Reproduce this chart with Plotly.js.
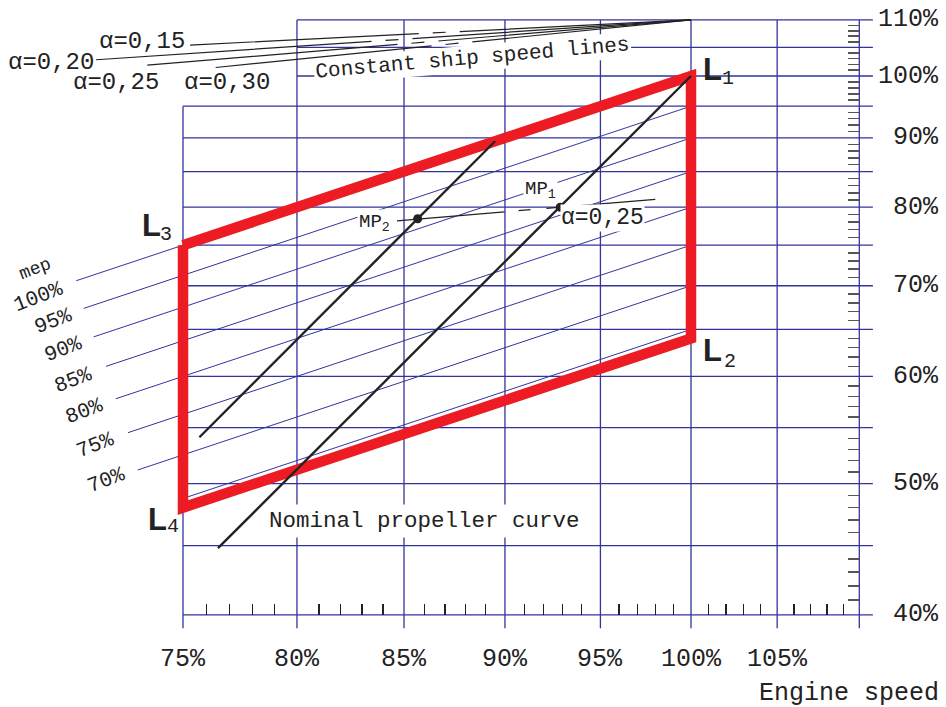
<!DOCTYPE html>
<html>
<head>
<meta charset="utf-8">
<script src="https://cdn.plot.ly/plotly-3.0.1.min.js"></script>
<style>
  html, body { margin: 0; padding: 0; background: #fff; }
  #chart { width: 946px; height: 707px; }
</style>
</head>
<body>
<div id="chart"></div>
<script>
// Engine layout diagram: power vs. engine speed (both % of L1), log-log scales

// ---- grid levels ----
const speedGrid = [75, 80, 85, 90, 95, 100, 105, 110];
const powerGrid = [40, 45, 50, 55, 60, 65, 70, 75, 80, 85, 90, 95, 100, 105, 110];
const speedTickLabels = ['75%', '80%', '85%', '90%', '95%', '100%', '105%'];
const speedTickValues = [75, 80, 85, 90, 95, 100, 105];
const powerTickLabels = ['40%', '50%', '60%', '70%', '80%', '90%', '100%', '110%'];
const powerTickValues = [40, 50, 60, 70, 80, 90, 100, 110];

// ---- layout area corners L1..L4 ----
const cornerNames = ['1', '2', '3', '4'];
const cornerSpeed = [100, 100, 75, 75];
const cornerPower = [100, 64, 75, 48];

// ---- constant mep lines ----
const mepLevels = [100, 95, 90, 85, 80, 75, 70, 65];
const mepLabels = ['100%', '95%', '90%', '85%', '80%', '75%', '70%'];
const mepStartSpeed = [70.6, 70.9, 71.3, 71.8, 72.2, 72.7, 73.1, 75.0];

// ---- propeller curves ----
const nominalPropSpeed = [76.5, 100];
const nominalPropPower = [44.8, 100];
const lightPropSpeed = [75.7, 89.5];
const lightPropPower = [54.1, 89.5];

// ---- constant ship speed lines ----
const shipAlpha = ['0,15', '0,20', '0,25', '0,30'];
const shipStartSpeed = [75.3, 71.4, 73.5, 76.4];
const shipStartPower = [105.4, 102.8, 101.85, 101.46];
const shipEndSpeed = 100;
const shipEndPower = 110;

// ---- matching points ----
const mpNames = ['1', '2'];
const mpSpeed = [92.86, 85.66];
const mpPower = [80.0, 78.45];
const mpLineSpeed = [84.66, 98.0];
const mpLinePower = [78.17, 81.08];

// ---- styling ----
const W = 946, H = 707;
const X = p => p / W;
const Y = p => 1 - p / H;
const BLUE = '#33339e';
const RED = '#ed1c24';
const INK = '#222222';
const MONO = 'Liberation Mono, DejaVu Sans Mono, monospace';
const mono = (size) => ({ family: MONO, size: size, color: INK });

const gridTop = 110, gridTopLeft = 95, gridBottom = 39.1, gridRight = 110.85;

// grid built from the levels above
const gx = [], gy = [];
speedGrid.forEach(s => { gx.push(s, s, null); gy.push(s === 75 ? gridTopLeft : gridTop, gridBottom, null); });
powerGrid.forEach(p => { gx.push(p >= 100 ? 80 : 75, gridRight, null); gy.push(p, p, null); });

// mep lines: power = mep x speed, drawn up to 100 % speed
const mx = [], my = [];
mepLevels.forEach((m, i) => {
  const s0 = mepStartSpeed[i];
  mx.push(s0, 100, null);
  my.push(m * s0 / 100, m, null);
});

// layout area outline L3 -> L1 -> L2 -> L4 -> L3
const order = [2, 0, 1, 3, 2];
const boxX = order.map(i => cornerSpeed[i]);
const boxY = order.map(i => cornerPower[i]);

const shipDash = ['229px,14px,13px,14px,600px', '276px,14px,13px,14px,600px',
                  '251px,14px,13px,14px,600px', '217px,14px,13px,14px,600px'];

const traces = [
  { x: gx, y: gy, mode: 'lines', line: { color: BLUE, width: 1.3 }, hoverinfo: 'skip' },
  { x: mx, y: my, mode: 'lines', line: { color: BLUE, width: 1 }, hoverinfo: 'skip' },
  { x: boxX, y: boxY, mode: 'lines', line: { color: RED, width: 10.5 }, hoverinfo: 'skip' },
  { x: nominalPropSpeed, y: nominalPropPower, mode: 'lines', line: { color: INK, width: 2.4 } },
  { x: lightPropSpeed, y: lightPropPower, mode: 'lines', line: { color: INK, width: 2.4 } }
];
shipAlpha.forEach((a, i) => {
  traces.push({ x: [shipStartSpeed[i], shipEndSpeed], y: [shipStartPower[i], shipEndPower],
    mode: 'lines', line: { color: INK, width: 1.2, dash: shipDash[i] } });
});
traces.push({ x: mpLineSpeed, y: mpLinePower, mode: 'lines',
  line: { color: INK, width: 1.2, dash: '108px,14px,12px,16px,300px' } });
traces.push({ x: mpSpeed, y: mpPower, mode: 'markers', marker: { color: INK, size: 9 } });

const ann = [];
const txt = (text, x, y, o) => Object.assign({
  text: text, xref: 'paper', yref: 'paper', x: X(x), y: Y(y),
  showarrow: false, xanchor: 'center', yanchor: 'middle', font: mono(22), borderpad: 1
}, o || {});

// axis labels
powerTickValues.forEach((v, i) => ann.push({
  text: powerTickLabels[i], xref: 'paper', x: X(941), yref: 'y', y: Math.log10(v),
  xanchor: 'right', yanchor: 'middle', showarrow: false, font: mono(25)
}));
speedTickValues.forEach((v, i) => ann.push({
  text: speedTickLabels[i], xref: 'x', x: Math.log10(v), yref: 'paper', y: Y(659),
  xanchor: 'center', yanchor: 'middle', showarrow: false, font: mono(25)
}));
ann.push(txt('Engine speed', 941, 693, { xanchor: 'right', font: mono(25) }));

// ship speed line labels
const alphaPos = [[97, 41], [6, 62], [71, 82], [182, 82]];
shipAlpha.forEach((a, i) => ann.push(txt('α=' + a, alphaPos[i][0], alphaPos[i][1], { xanchor: 'left', font: mono(24) })));
ann.push(txt('Constant ship speed lines', 472, 59, { textangle: -5, font: mono(21), bgcolor: '#fff' }));
ann.push(txt('Nominal propeller curve', 424, 521, { font: mono(22.5), bgcolor: '#fff', borderpad: 3 }));

// mep labels
ann.push(txt('mep', 35, 269, { textangle: -21, font: mono(18) }));
const mepPos = [[38, 297], [53, 321], [63, 349], [73, 380], [84, 411], [95, 445], [106, 480]];
mepLabels.forEach((l, i) => ann.push(txt(l, mepPos[i][0], mepPos[i][1], { textangle: -21, font: mono(21) })));

// matching points
ann.push(txt('MP<sub>1</sub>', 540, 190, { font: mono(19), bgcolor: '#fff' }));
ann.push(txt('MP<sub>2</sub>', 374, 223, { font: mono(19), bgcolor: '#fff' }));
ann.push(txt('α=0,25', 602, 218, { font: mono(23), bgcolor: '#fff', borderpad: 0 }));

// corner labels
const cornerL = [[701, 69], [701, 351], [140, 225], [146, 519]];
const cornerSub = [[720, 78], [722, 361], [158, 234], [165, 526]];
cornerNames.forEach((n, i) => {
  ann.push(txt('<b>L</b>', cornerL[i][0], cornerL[i][1],
    { xanchor: 'left', font: { family: 'Liberation Sans, Arial, sans-serif', size: 31, color: INK } }));
  ann.push(txt(n, cornerSub[i][0], cornerSub[i][1], { xanchor: 'left', font: mono(20) }));
});

const minorSpeed = [], minorPower = [];
for (let s = 76; s <= 109; s++) if (s % 5) minorSpeed.push(s);
for (let p = 41; p <= 109; p++) if (p % 5) minorPower.push(p);

const layout = {
  width: W, height: H,
  margin: { l: 0, r: 0, t: 0, b: 0 },
  paper_bgcolor: '#fff', plot_bgcolor: '#fff',
  showlegend: false, hovermode: false,
  xaxis: {
    type: 'log', range: [2 - 691 / 4066, 2 + 255 / 4066], domain: [0, 1],
    showgrid: false, zeroline: false, showline: false,
    anchor: 'free', position: Y(615), side: 'bottom',
    ticks: 'inside', tickmode: 'array', tickvals: minorSpeed,
    ticklen: 11, tickwidth: 1.3, tickcolor: '#222', showticklabels: false
  },
  yaxis: {
    type: 'log', range: [2 - 631 / 1354, 2 + 76 / 1354], domain: [0, 1],
    showgrid: false, zeroline: false, showline: false,
    anchor: 'free', position: X(859), side: 'right',
    ticks: 'inside', tickmode: 'array', tickvals: minorPower,
    ticklen: 11, tickwidth: 1.6, tickcolor: '#555', showticklabels: false
  },
  annotations: ann
};

Plotly.newPlot('chart', traces, layout, { staticPlot: true, displayModeBar: false });
</script>
</body>
</html>
